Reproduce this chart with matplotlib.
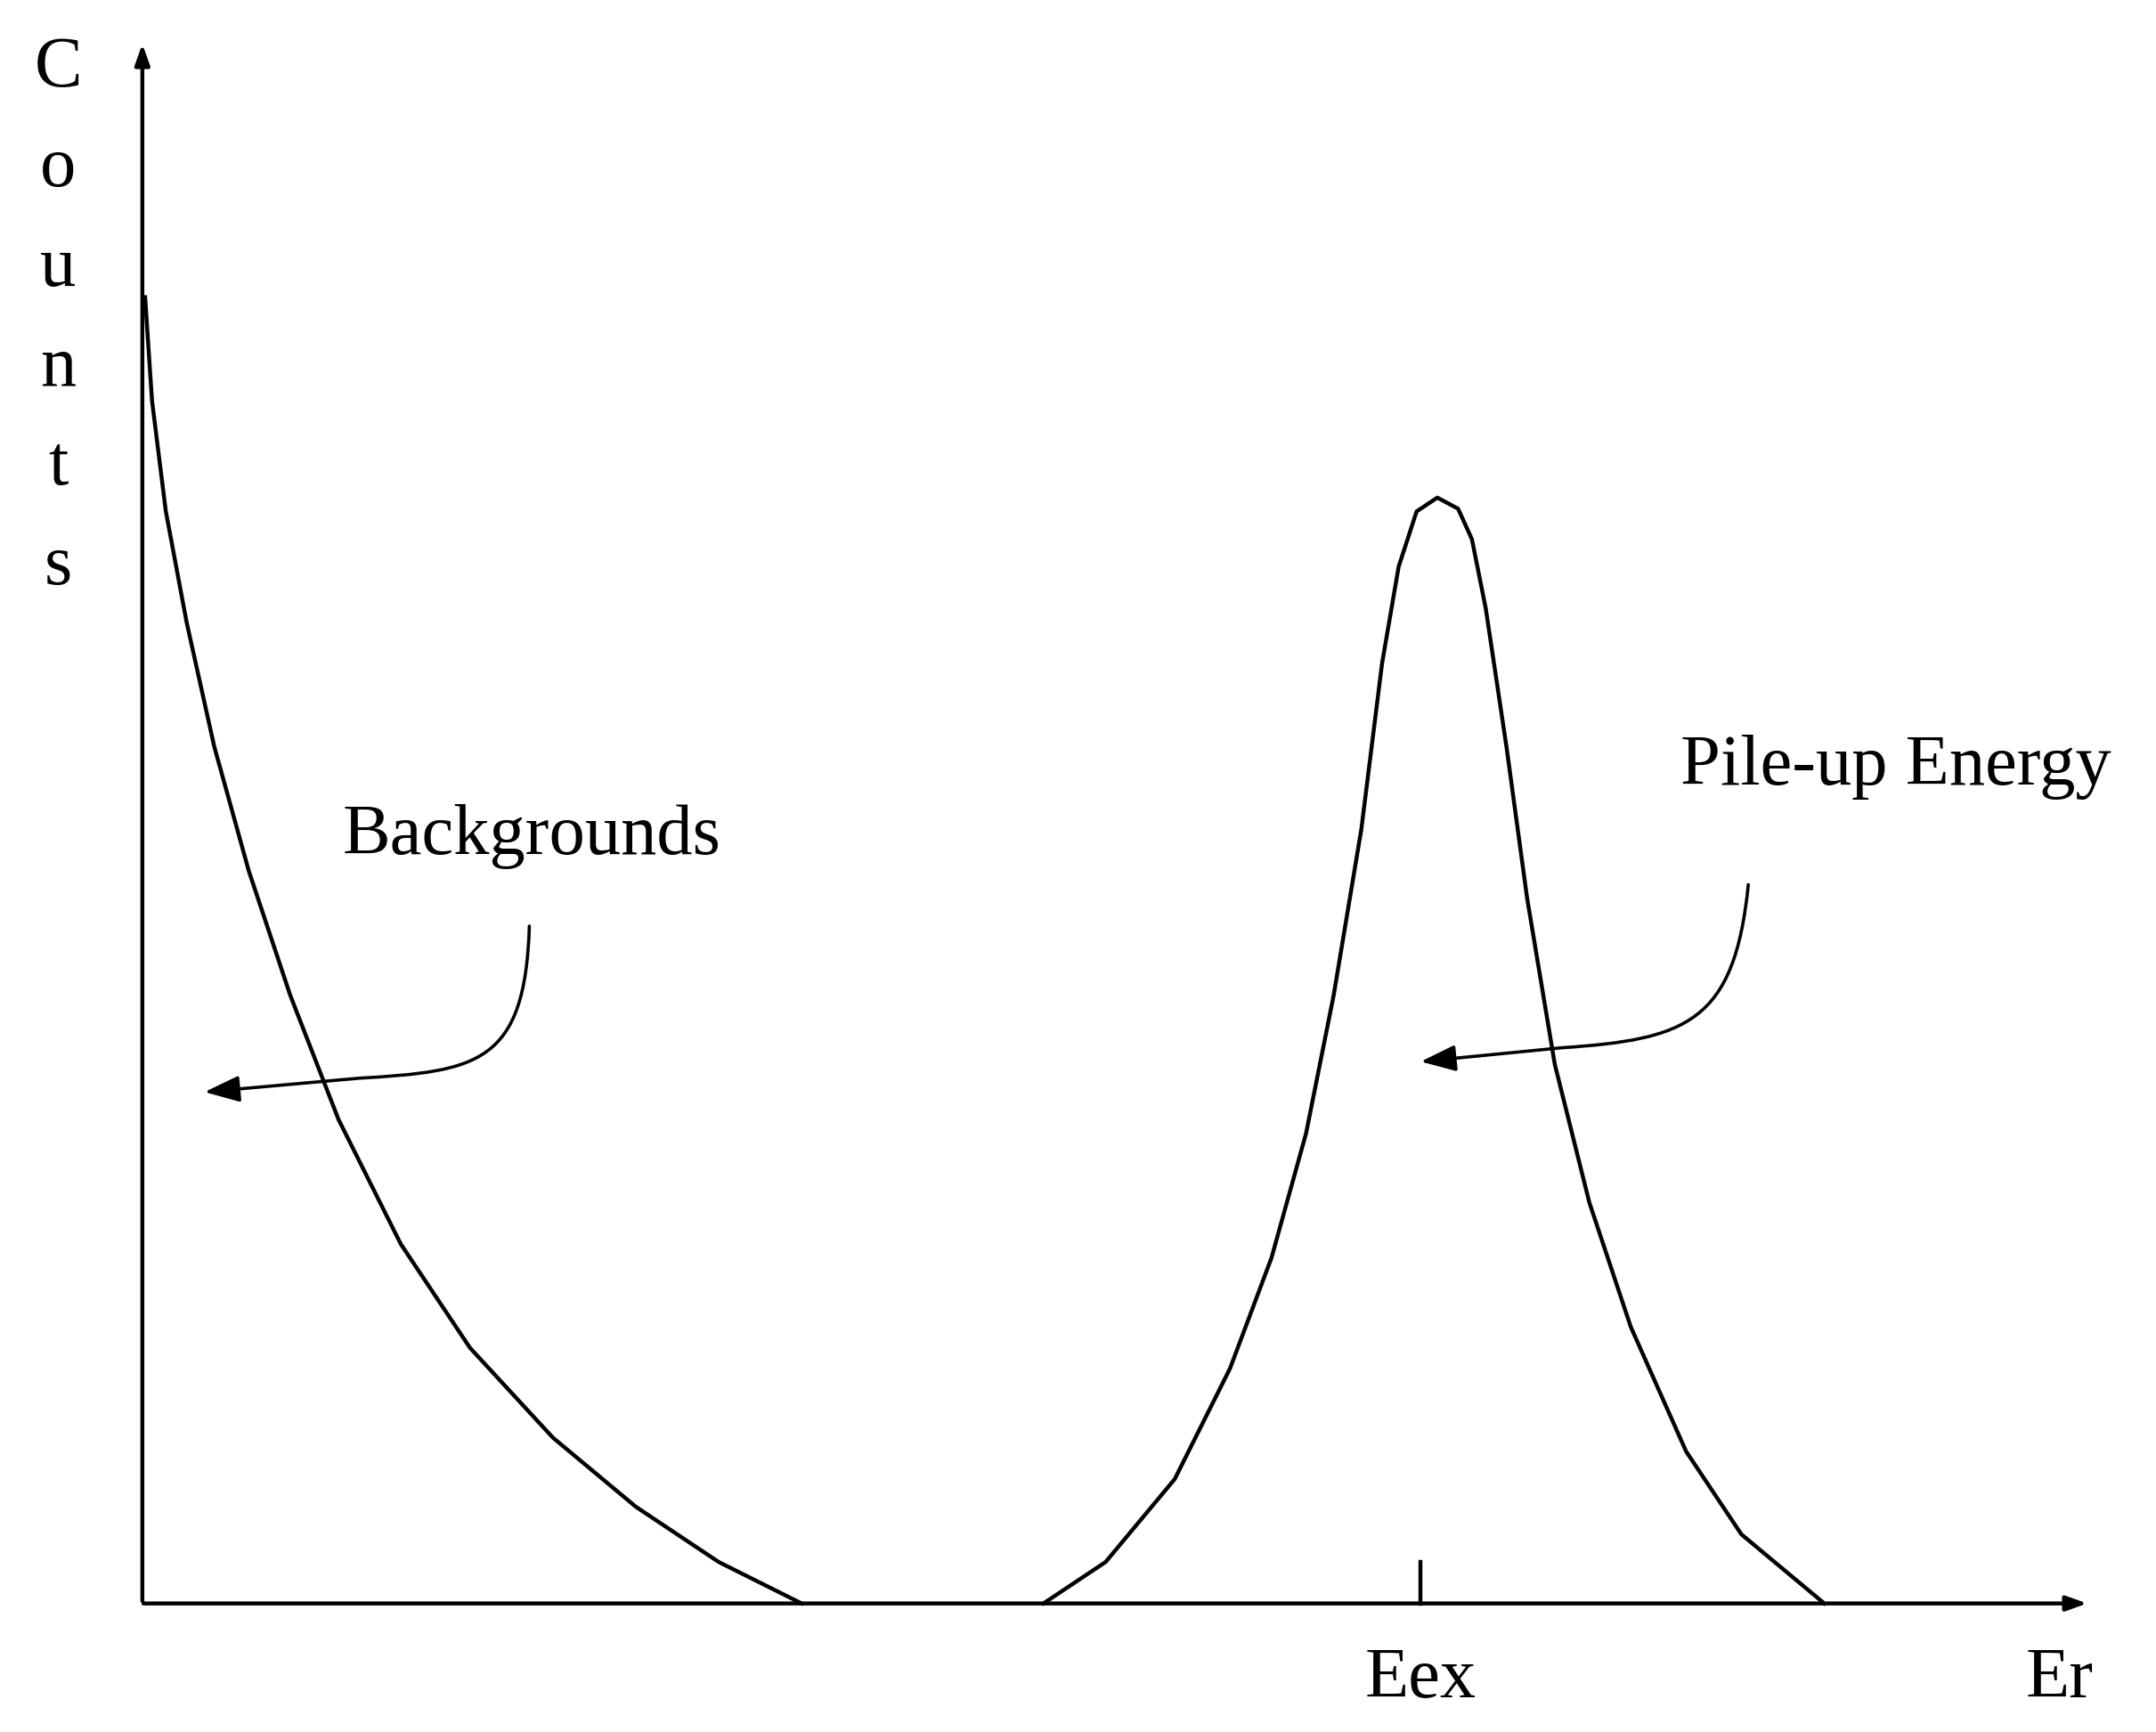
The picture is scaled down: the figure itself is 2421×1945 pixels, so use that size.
import matplotlib.pyplot as plt
from matplotlib.path import Path
from matplotlib.patches import FancyArrowPatch

plt.rcParams['font.family'] = ['Liberation Serif', 'DejaVu Serif']

# schematic drawn in picture units (origin at top-left, y grows downward)
bg_x = [105, 110, 120, 135, 155, 180, 210, 245, 290, 340, 400, 460, 520, 580]
bg_y = [215, 290, 370, 450, 540, 630, 720, 810, 900, 975, 1040, 1090, 1130, 1160]

peak_x = [755, 800, 850, 890, 920, 945, 965, 985, 1000, 1012, 1025, 1040, 1055, 1065,
          1075, 1090, 1105, 1125, 1150, 1180, 1220, 1260, 1320]
peak_y = [1160, 1130, 1070, 990, 910, 820, 720, 600, 480, 410, 370, 360, 368, 390,
          440, 540, 650, 770, 870, 960, 1050, 1110, 1160]

axis_x0, axis_y0 = 103, 1160
tick_x = 1028

fig = plt.figure(figsize=(24.21, 19.45), dpi=100)
ax = fig.add_axes([0, 0, 1, 1])
ax.set_xlim(0, 1560)
ax.set_ylim(1253, 0)
ax.axis('off')

lw = 3.2
ax.plot(bg_x, bg_y, color='black', lw=lw)
ax.plot(peak_x, peak_y, color='black', lw=lw)

# axes with arrowheads
ax.annotate('', xy=(axis_x0, 30), xytext=(axis_x0, axis_y0),
            arrowprops=dict(arrowstyle='-|>,head_length=1.4,head_width=0.5', color='black', lw=lw))
ax.annotate('', xy=(1512, axis_y0), xytext=(axis_x0 - 1, axis_y0),
            arrowprops=dict(arrowstyle='-|>,head_length=1.4,head_width=0.5', color='black', lw=lw))
ax.plot([tick_x, tick_x], [1130, 1160], color='black', lw=lw)

fs = 58
ax.text(tick_x, 1215, 'Eex', fontsize=fs, ha='center', va='center')
ax.text(1490, 1215, 'Er', fontsize=fs, ha='center', va='center')
for i, ch in enumerate('Counts'):
    ax.text(42, 50 + i * 72, ch, fontsize=fs, ha='center', va='center')
ax.text(385, 605, 'Backgrounds', fontsize=fs, ha='center', va='center')
ax.text(1372, 555, 'Pile-up Energy', fontsize=fs, ha='center', va='center')

# curved pointer arrows
def pointer(p0, c1, c2, p1, end):
    path = Path([p0, c1, c2, p1, end],
                [Path.MOVETO, Path.CURVE4, Path.CURVE4, Path.CURVE4, Path.LINETO])
    ax.add_patch(FancyArrowPatch(path=path, arrowstyle='-|>,head_length=1.2,head_width=0.45',
                                 color='black', lw=2.6, mutation_scale=20))

pointer((383, 670), (380, 770), (345, 775), (260, 780), (148, 790))
pointer((1265, 640), (1255, 740), (1220, 752), (1130, 758), (1028, 768))

fig.savefig('out.png', dpi=100)
